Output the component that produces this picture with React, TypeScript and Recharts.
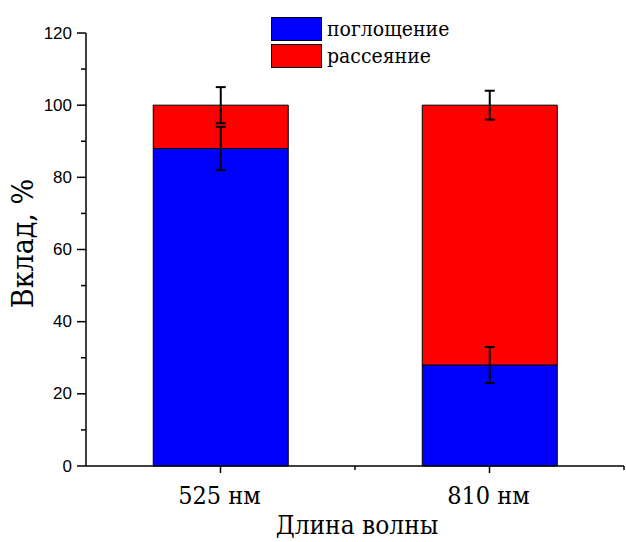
import React from 'react';
import { BarChart, Bar, XAxis, YAxis, ErrorBar, Legend } from 'recharts';

const categories = ['525 нм', '810 нм'];
const absorption = [88, 28];
const absorptionErr = [6, 5];
const scattering = [12, 72];
const scatteringErr = [5, 4];
const yTicks = [0, 10, 20, 30, 40, 50, 60, 70, 80, 90, 100, 110, 120];
const seriesNames = { abs: 'поглощение', scat: 'рассеяние' };

const data = categories.map((c, i) => ({
  name: c,
  abs: absorption[i],
  absErr: absorptionErr[i],
  scat: scattering[i],
  scatErr: scatteringErr[i],
}));

const W = 626;
const H = 542;
const LEFT = 86;
const RIGHT = 2;
const TOP = 33;
const BOTTOM = 76;
const BAND = (W - LEFT - RIGHT) / categories.length;

const serif = '"DejaVu Serif Condensed", "DejaVu Serif", serif';
const sans = '"Liberation Sans", Arial, sans-serif';

const YTick = (props: any) => {
  const { x, y, payload } = props;
  const major = payload.value % 20 === 0;
  return (
    <g>
      <line x1={x - (major ? 9 : 5)} x2={x} y1={y} y2={y} stroke="#000" strokeWidth={1.5} />
      {major && (
        <text x={x - 14} y={y} textAnchor="end" dominantBaseline="central" fontFamily={sans} fontSize={17} fill="#000">
          {payload.value}
        </text>
      )}
    </g>
  );
};

const XTick = (props: any) => {
  const { x, y, payload } = props;
  return (
    <g>
      <line x1={x} x2={x} y1={y} y2={y + 7} stroke="#000" strokeWidth={1.5} />
      <line x1={x + BAND / 2} x2={x + BAND / 2} y1={y} y2={y + 4} stroke="#000" strokeWidth={1.5} />
      <text x={x - 1} y={y + 38} textAnchor="middle" fontFamily={serif} fontSize={25} fill="#000">
        {payload.value}
      </text>
    </g>
  );
};

const LegendContent = (props: any) => {
  const { payload } = props;
  return (
    <div>
      {payload.map((p: any, i: number) => (
        <div key={i} style={{ display: 'flex', alignItems: 'center', height: 27.5 }}>
          <div style={{ width: 49, height: 22, background: p.color, border: '1px solid #000', boxSizing: 'content-box' }} />
          <span style={{ fontFamily: serif, fontSize: 21, marginLeft: 5, color: '#000', lineHeight: '24px', whiteSpace: 'nowrap' }}>{p.value}</span>
        </div>
      ))}
    </div>
  );
};

export default function App() {
  return (
    <div style={{ position: 'absolute', left: 0, top: 0, background: '#fff' }}>
      <BarChart
        width={W}
        height={H}
        data={data}
        margin={{ top: TOP, right: RIGHT, left: 0, bottom: 0 }}
        barCategoryGap="25%"
      >
        <XAxis
          dataKey="name"
          height={BOTTOM}
          tickLine={false}
          tickSize={0}
          tickMargin={0}
          axisLine={{ stroke: '#000', strokeWidth: 1.5 }}
          tick={<XTick />}
          interval={0}
          label={(lp: any) => {
            const vb = lp.viewBox;
            return (
              <text x={vb.x + vb.width / 2 + 2} y={534} textAnchor="middle" fontFamily={serif} fontSize={26} fill="#000">
                Длина волны
              </text>
            );
          }}
        />
        <YAxis
          width={LEFT}
          domain={[0, 120]}
          ticks={yTicks}
          interval={0}
          tickLine={false}
          tickSize={0}
          tickMargin={0}
          axisLine={{ stroke: '#000', strokeWidth: 1.5 }}
          tick={<YTick />}
          label={(lp: any) => {
            const vb = lp.viewBox;
            const cy = vb.y + vb.height / 2 - 6;
            return (
              <text x={33} y={cy} textAnchor="middle" transform={`rotate(-90, 33, ${cy})`} fontFamily={serif} fontSize={30} fill="#000">
                Вклад, %
              </text>
            );
          }}
        />
        <Legend
          layout="vertical"
          align="center"
          verticalAlign="middle"
          content={<LegendContent />}
          wrapperStyle={{ position: 'absolute', left: 271, top: 15, width: 220, height: 60 }}
        />
        <Bar dataKey="abs" name={seriesNames.abs} stackId="a" fill="#0000FF" stroke="#000" strokeWidth={1} isAnimationActive={false}>
          <ErrorBar dataKey="absErr" width={5} stroke="#000" strokeWidth={2} />
        </Bar>
        <Bar dataKey="scat" name={seriesNames.scat} stackId="a" fill="#FF0000" stroke="#000" strokeWidth={1} isAnimationActive={false}>
          <ErrorBar dataKey="scatErr" width={5} stroke="#000" strokeWidth={2} />
        </Bar>
      </BarChart>
    </div>
  );
}
